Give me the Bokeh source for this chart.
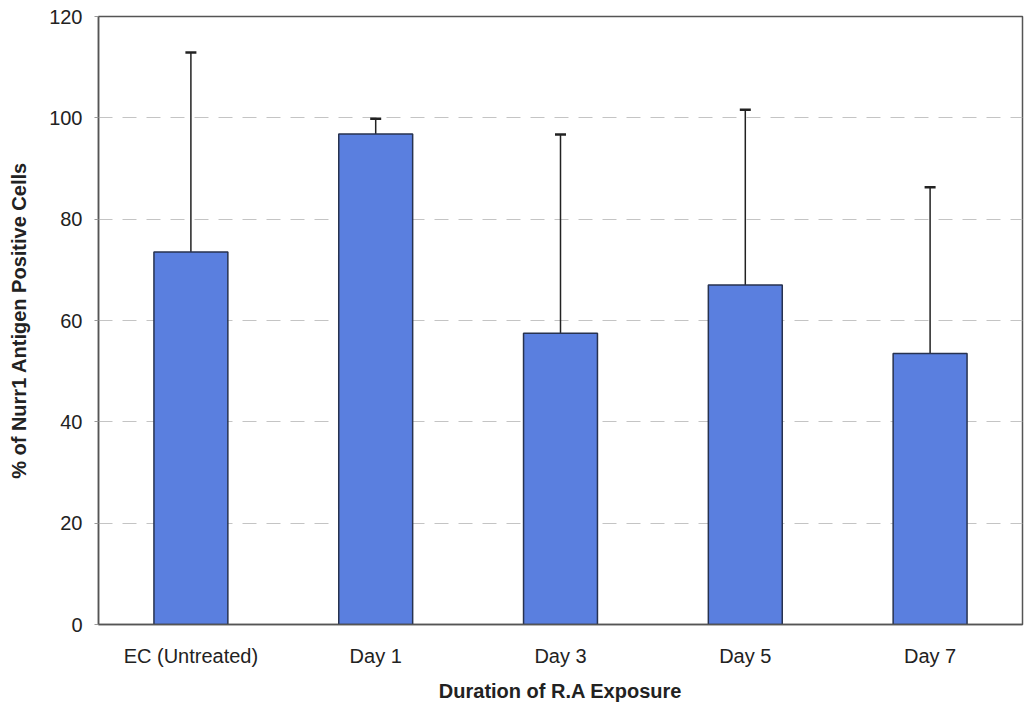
from bokeh.plotting import figure
from bokeh.models import ColumnDataSource, FactorRange, Range1d, Whisker, TeeHead, SingleIntervalTicker
from bokeh.embed import file_html
from bokeh.resources import INLINE

categories = ["EC (Untreated)", "Day 1", "Day 3", "Day 5", "Day 7"]
means = [73.5, 96.8, 57.5, 67.0, 53.5]
upper_err = [112.9, 99.8, 96.7, 101.6, 86.3]

src = ColumnDataSource(data=dict(cat=categories, mean=means, upper=upper_err))

p = figure(width=1024, height=708, output_backend="svg", toolbar_location=None,
           x_range=FactorRange(factors=categories, range_padding=0),
           y_range=Range1d(0, 120),
           min_border_left=98, min_border_right=2, min_border_top=16, min_border_bottom=84)

p.vbar(x="cat", top="mean", width=0.4, source=src, fill_color="#5a7fdf",
       line_color="#27324f", line_width=1.5)

w = Whisker(base="cat", upper="upper", lower="mean", source=src,
            line_color="#222222", line_width=1.5,
            upper_head=TeeHead(size=11, line_color="#222222", line_width=2.5),
            lower_head=None)
p.add_layout(w)

p.outline_line_color = "#555555"
p.outline_line_width = 1.5
p.background_fill_color = "white"
p.border_fill_color = "white"

p.xgrid.grid_line_color = None
p.ygrid.grid_line_color = "#c4c4c4"
p.ygrid.grid_line_dash = "14 10"
p.ygrid.grid_line_width = 1

p.yaxis.ticker = SingleIntervalTicker(interval=20, num_minor_ticks=0)
p.yaxis.axis_line_color = "#555555"
p.yaxis.axis_line_width = 1.5
p.yaxis.major_tick_line_color = "#999999"
p.yaxis.major_tick_out = 4
p.yaxis.major_tick_in = 0
p.yaxis.minor_tick_line_color = None
p.yaxis.major_label_text_font = "Liberation Sans"
p.yaxis.major_label_text_font_size = "20px"
p.yaxis.major_label_text_color = "#222222"
p.yaxis.major_label_standoff = 12
p.yaxis.axis_label = "% of Nurr1 Antigen Positive Cells"
p.yaxis.axis_label_text_font = "Liberation Sans"
p.yaxis.axis_label_text_font_style = "bold"
p.yaxis.axis_label_text_font_size = "20px"
p.yaxis.axis_label_text_color = "#222222"
p.yaxis.axis_label_standoff = 16

p.xaxis.axis_line_color = "#555555"
p.xaxis.axis_line_width = 1.5
p.xaxis.major_tick_line_color = None
p.xaxis.minor_tick_line_color = None
p.xaxis.major_label_text_font = "Liberation Sans"
p.xaxis.major_label_text_font_size = "20px"
p.xaxis.major_label_text_color = "#222222"
p.xaxis.major_label_standoff = 14
p.xaxis.axis_label = "Duration of R.A Exposure"
p.xaxis.axis_label_text_font = "Liberation Sans"
p.xaxis.axis_label_text_font_style = "bold"
p.xaxis.axis_label_text_font_size = "20px"
p.xaxis.axis_label_text_color = "#222222"
p.xaxis.axis_label_standoff = 10

open("out.html", "w").write(file_html(p, INLINE))
